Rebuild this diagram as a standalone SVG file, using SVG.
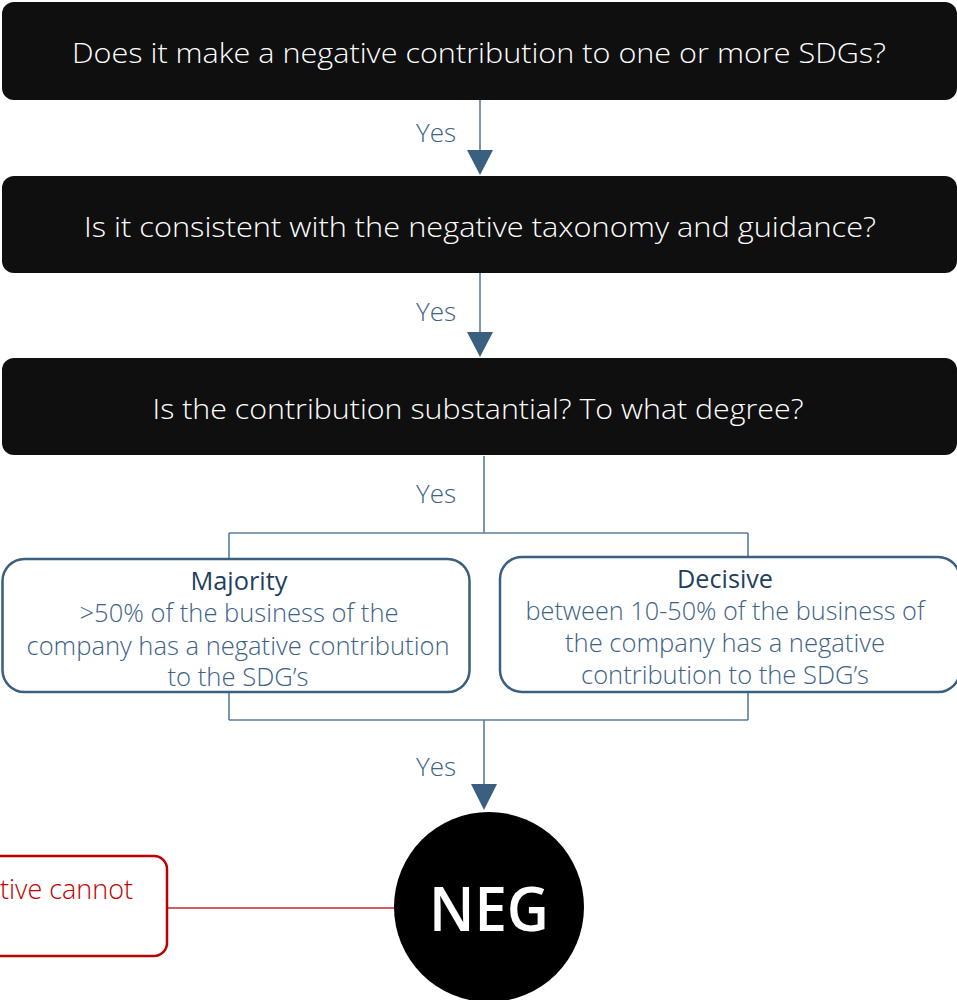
<svg xmlns="http://www.w3.org/2000/svg" width="957" height="1000" viewBox="0 0 957 1000">
<style>
.q{fill:#0f0f0f}
.qt{fill:#ffffff;font-family:"Open Sans","Noto Sans",sans-serif;font-size:28px;font-weight:300;text-anchor:middle}
.yes{fill:#3d6286;font-family:"Open Sans","Noto Sans",sans-serif;font-size:26px;font-weight:300;text-anchor:middle}
.bx{fill:#ffffff;stroke:#3a5f80;stroke-width:2.5}
.bt{fill:#3d6286;font-family:"Open Sans","Noto Sans",sans-serif;font-size:25px;font-weight:300;text-anchor:middle}
.bh{fill:#1f3f60;font-family:"Open Sans","Noto Sans",sans-serif;font-size:25px;font-weight:400;text-anchor:middle}
.ln{stroke:#5a7c9c;stroke-width:1.6;fill:none}
.ah{fill:#3a5f80}
</style>
<g id="connectors">
<line class="ln" x1="480" y1="100" x2="480" y2="152"/>
<polygon class="ah" points="467,150 493,150 480,175"/>
<line class="ln" x1="480" y1="273" x2="480" y2="334"/>
<polygon class="ah" points="467,332 493,332 480,357"/>
<line class="ln" x1="484" y1="456" x2="484" y2="533"/>
<line class="ln" x1="229" y1="533" x2="748" y2="533"/>
<line class="ln" x1="229" y1="533" x2="229" y2="559"/>
<line class="ln" x1="748" y1="533" x2="748" y2="557"/>
<line class="ln" x1="229" y1="692" x2="229" y2="720"/>
<line class="ln" x1="748" y1="692" x2="748" y2="720"/>
<line class="ln" x1="229" y1="720" x2="748" y2="720"/>
<line class="ln" x1="484" y1="720" x2="484" y2="786"/>
<polygon class="ah" points="471,784 497,784 484,810"/>
<line x1="168" y1="908" x2="394" y2="908" stroke="#c0282d" stroke-width="1.6"/>
<text class="yes" x="436" y="142">Yes</text>
<text class="yes" x="436" y="321">Yes</text>
<text class="yes" x="436" y="503">Yes</text>
<text class="yes" x="436" y="776">Yes</text>
</g>
<g id="q1">
<rect class="q" x="2" y="2" width="955" height="98" rx="12"/>
<text class="qt" x="479" y="63" textLength="814" lengthAdjust="spacingAndGlyphs">Does it make a negative contribution to one or more SDGs?</text>
</g>
<g id="q2">
<rect class="q" x="2" y="176" width="955" height="97" rx="12"/>
<text class="qt" x="480" y="237" textLength="792" lengthAdjust="spacingAndGlyphs">Is it consistent with the negative taxonomy and guidance?</text>
</g>
<g id="q3">
<rect class="q" x="2" y="358" width="955" height="97" rx="12"/>
<text class="qt" x="478" y="419" textLength="651" lengthAdjust="spacingAndGlyphs">Is the contribution substantial? To what degree?</text>
</g>
<g id="majority">
<rect class="bx" x="2.5" y="559" width="467" height="133" rx="22"/>
<text class="bh" x="239" y="590" textLength="97" lengthAdjust="spacingAndGlyphs">Majority</text>
<text class="bt" x="239" y="622" textLength="319" lengthAdjust="spacingAndGlyphs">&gt;50% of the business of the</text>
<text class="bt" x="238" y="655" textLength="423" lengthAdjust="spacingAndGlyphs">company has a negative contribution</text>
<text class="bt" x="238" y="686" textLength="141" lengthAdjust="spacingAndGlyphs">to the SDG’s</text>
</g>
<g id="decisive">
<rect class="bx" x="500" y="557" width="460" height="135" rx="22"/>
<text class="bh" x="725" y="588" textLength="96" lengthAdjust="spacingAndGlyphs">Decisive</text>
<text class="bt" x="725" y="620" textLength="399" lengthAdjust="spacingAndGlyphs">between 10-50% of the business of</text>
<text class="bt" x="725" y="652" textLength="320" lengthAdjust="spacingAndGlyphs">the company has a negative</text>
<text class="bt" x="725" y="684" textLength="288" lengthAdjust="spacingAndGlyphs">contribution to the SDG’s</text>
</g>
<g id="note">
<rect x="-60" y="856" width="227" height="100" rx="13" fill="#ffffff" stroke="#c00000" stroke-width="2.5"/>
<text x="133" y="899" fill="#c00000" font-family="'Open Sans','Noto Sans',sans-serif" font-size="27" font-weight="300" text-anchor="end" textLength="133" lengthAdjust="spacingAndGlyphs">tive cannot</text>
</g>
<g id="neg">
<circle cx="489" cy="907" r="95" fill="#000000"/>
<text x="489" y="931" fill="#ffffff" font-family="'Open Sans','Noto Sans',sans-serif" font-size="62" font-weight="600" text-anchor="middle" textLength="120" lengthAdjust="spacingAndGlyphs">NEG</text>
</g>
</svg>
